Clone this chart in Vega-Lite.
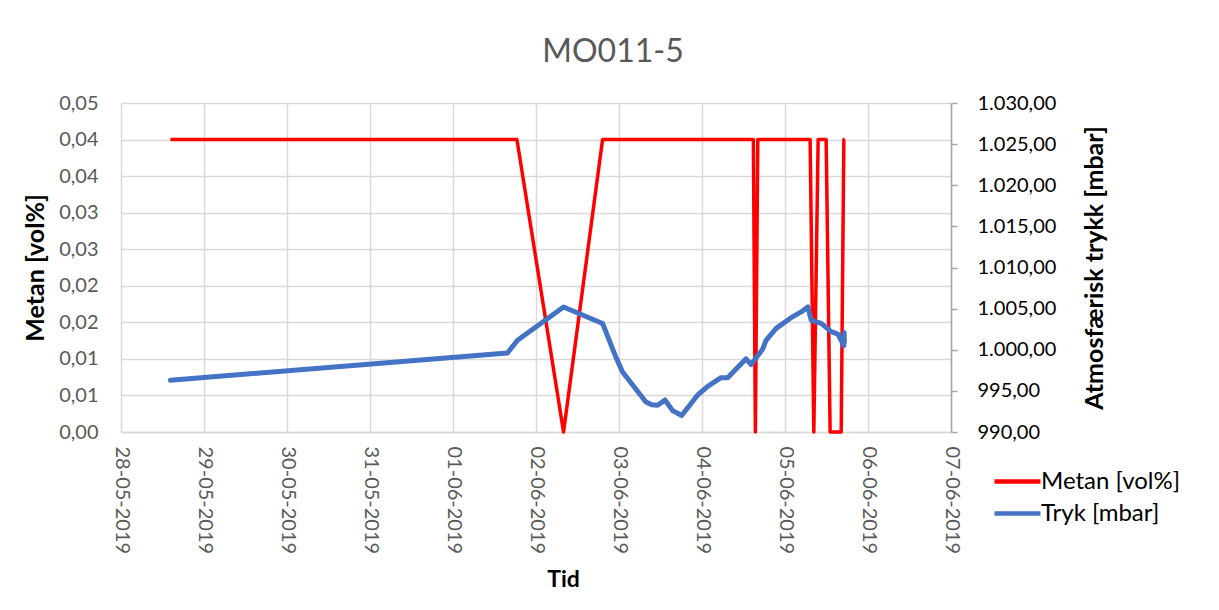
{
  "$schema": "https://vega.github.io/schema/vega-lite/v6.json",
  "width": 830,
  "height": 329,
  "autosize": {"type": "none"},
  "padding": {"left": 121, "top": 103, "right": 268, "bottom": 178},
  "background": "white",
  "title": {"text": "MO011-5", "fontSize": 32, "fontWeight": "normal", "color": "#595959", "anchor": "middle", "dx": 77, "offset": 24},
  "data": {
    "values": [
      {"t": "2019-05-28T14:17:00", "series": "Metan [vol%]", "v": 0.04},
      {"t": "2019-06-01T18:29:00", "series": "Metan [vol%]", "v": 0.04},
      {"t": "2019-06-02T07:58:00", "series": "Metan [vol%]", "v": 0},
      {"t": "2019-06-02T19:15:00", "series": "Metan [vol%]", "v": 0.04},
      {"t": "2019-06-04T14:51:00", "series": "Metan [vol%]", "v": 0.04},
      {"t": "2019-06-04T15:26:00", "series": "Metan [vol%]", "v": 0},
      {"t": "2019-06-04T16:08:00", "series": "Metan [vol%]", "v": 0.04},
      {"t": "2019-06-05T07:16:00", "series": "Metan [vol%]", "v": 0.04},
      {"t": "2019-06-05T08:20:00", "series": "Metan [vol%]", "v": 0},
      {"t": "2019-06-05T09:35:00", "series": "Metan [vol%]", "v": 0.04},
      {"t": "2019-06-05T11:54:00", "series": "Metan [vol%]", "v": 0.04},
      {"t": "2019-06-05T13:03:00", "series": "Metan [vol%]", "v": 0},
      {"t": "2019-06-05T16:15:00", "series": "Metan [vol%]", "v": 0},
      {"t": "2019-06-05T17:01:00", "series": "Metan [vol%]", "v": 0.04},
      {"t": "2019-06-05T17:15:00", "series": "Metan [vol%]", "v": 0.04},
      {"t": "2019-05-28T14:17:00", "series": "Tryk [mbar]", "v": 996.3},
      {"t": "2019-06-01T15:45:00", "series": "Tryk [mbar]", "v": 999.6},
      {"t": "2019-06-01T18:39:00", "series": "Tryk [mbar]", "v": 1001.15},
      {"t": "2019-06-02T07:58:00", "series": "Tryk [mbar]", "v": 1005.2},
      {"t": "2019-06-02T19:15:00", "series": "Tryk [mbar]", "v": 1003.2},
      {"t": "2019-06-02T23:06:00", "series": "Tryk [mbar]", "v": 999.1},
      {"t": "2019-06-03T01:02:00", "series": "Tryk [mbar]", "v": 997.3},
      {"t": "2019-06-03T07:47:00", "series": "Tryk [mbar]", "v": 993.65},
      {"t": "2019-06-03T09:30:00", "series": "Tryk [mbar]", "v": 993.3},
      {"t": "2019-06-03T11:11:00", "series": "Tryk [mbar]", "v": 993.25},
      {"t": "2019-06-03T13:18:00", "series": "Tryk [mbar]", "v": 993.9},
      {"t": "2019-06-03T15:31:00", "series": "Tryk [mbar]", "v": 992.6},
      {"t": "2019-06-03T18:07:00", "series": "Tryk [mbar]", "v": 992.0},
      {"t": "2019-06-03T22:45:00", "series": "Tryk [mbar]", "v": 994.5},
      {"t": "2019-06-04T01:39:00", "series": "Tryk [mbar]", "v": 995.55},
      {"t": "2019-06-04T05:30:00", "series": "Tryk [mbar]", "v": 996.6},
      {"t": "2019-06-04T07:26:00", "series": "Tryk [mbar]", "v": 996.6},
      {"t": "2019-06-04T12:44:00", "series": "Tryk [mbar]", "v": 998.9},
      {"t": "2019-06-04T14:11:00", "series": "Tryk [mbar]", "v": 998.2},
      {"t": "2019-06-04T17:34:00", "series": "Tryk [mbar]", "v": 1000.1},
      {"t": "2019-06-04T18:31:00", "series": "Tryk [mbar]", "v": 1001.15},
      {"t": "2019-06-04T21:26:00", "series": "Tryk [mbar]", "v": 1002.6},
      {"t": "2019-06-05T01:46:00", "series": "Tryk [mbar]", "v": 1003.9},
      {"t": "2019-06-05T04:41:00", "series": "Tryk [mbar]", "v": 1004.6},
      {"t": "2019-06-05T06:36:00", "series": "Tryk [mbar]", "v": 1005.2},
      {"t": "2019-06-05T07:34:00", "series": "Tryk [mbar]", "v": 1003.6},
      {"t": "2019-06-05T10:28:00", "series": "Tryk [mbar]", "v": 1003.2},
      {"t": "2019-06-05T13:21:00", "series": "Tryk [mbar]", "v": 1002.2},
      {"t": "2019-06-05T15:17:00", "series": "Tryk [mbar]", "v": 1001.9},
      {"t": "2019-06-05T16:44:00", "series": "Tryk [mbar]", "v": 1000.75},
      {"t": "2019-06-05T17:00:00", "series": "Tryk [mbar]", "v": 1000.5},
      {"t": "2019-06-05T17:06:00", "series": "Tryk [mbar]", "v": 1002.1},
      {"t": "2019-06-05T17:10:00", "series": "Tryk [mbar]", "v": 1000.9}
    ]
  },
  "encoding": {
    "x": {
      "field": "t",
      "type": "temporal",
      "scale": {"domain": [{"year": 2019, "month": 5, "date": 28}, {"year": 2019, "month": 6, "date": 7}]},
      "axis": {
        "title": "Tid",
        "format": "%d-%m-%Y",
        "labelAngle": 90,
        "values": [
          {"year": 2019, "month": 5, "date": 28},
          {"year": 2019, "month": 5, "date": 29},
          {"year": 2019, "month": 5, "date": 30},
          {"year": 2019, "month": 5, "date": 31},
          {"year": 2019, "month": 6, "date": 1},
          {"year": 2019, "month": 6, "date": 2},
          {"year": 2019, "month": 6, "date": 3},
          {"year": 2019, "month": 6, "date": 4},
          {"year": 2019, "month": 6, "date": 5},
          {"year": 2019, "month": 6, "date": 6},
          {"year": 2019, "month": 6, "date": 7}
        ],
        "grid": true,
        "gridColor": "#d9d9d9",
        "gridWidth": 1.5,
        "ticks": false,
        "domainColor": "#d9d9d9",
        "domainWidth": 1.5,
        "labelColor": "#595959",
        "labelFontSize": 20,
        "labelPadding": 14,
        "labelOverlap": false,
        "labelFlush": false,
        "titleFontSize": 23,
        "titleFontWeight": "bold",
        "titleColor": "#000000",
        "titlePadding": 15,
        "titleX": 442
      }
    }
  },
  "layer": [
    {
      "transform": [{"filter": "datum.series === 'Metan [vol%]'"}],
      "mark": {"type": "line", "strokeWidth": 3.5, "strokeJoin": "round"},
      "encoding": {
        "y": {
          "field": "v",
          "type": "quantitative",
          "scale": {"domain": [0, 0.045], "nice": false, "zero": true},
          "axis": {
            "orient": "left",
            "title": "Metan [vol%]",
            "values": [0, 0.005, 0.01, 0.015, 0.02, 0.025, 0.03, 0.035, 0.04, 0.045],
            "labelExpr": "replace(format(round(datum.value*100+0.000001)/100, '.2f'), '.', ',')",
            "grid": true,
            "gridColor": "#d9d9d9",
            "gridWidth": 1.5,
            "ticks": false,
            "domain": false,
            "labelColor": "#595959",
            "labelFontSize": 20,
            "labelPadding": 23,
            "titleFontSize": 25,
            "titleFontWeight": "bold",
            "titleColor": "#000000",
            "titlePadding": 10
          }
        },
        "color": {
          "field": "series",
          "type": "nominal",
          "scale": {"domain": ["Metan [vol%]", "Tryk [mbar]"], "range": ["#ff0000", "#4472c4"]},
          "legend": {
            "orient": "none",
            "legendX": 884,
            "legendY": 366,
            "title": null,
            "padding": 0,
            "symbolType": "M-2.3,0H2.3",
            "symbolSize": 400,
            "symbolStrokeWidth": 4.5,
            "labelFontSize": 24,
            "labelColor": "#000000",
            "labelOffset": 11,
            "rowPadding": 7
          }
        }
      }
    },
    {
      "transform": [{"filter": "datum.series === 'Tryk [mbar]'"}],
      "mark": {"type": "line", "strokeWidth": 5, "strokeJoin": "round", "strokeCap": "round"},
      "encoding": {
        "y": {
          "field": "v",
          "type": "quantitative",
          "scale": {"domain": [990, 1030], "nice": false, "zero": false},
          "axis": {
            "orient": "right",
            "title": "Atmosfærisk trykk [mbar]",
            "titleAngle": 270,
            "titleBaseline": "top",
            "values": [990, 995, 1000, 1005, 1010, 1015, 1020, 1025, 1030],
            "labelExpr": "replace(replace(replace(format(datum.value, ',.2f'), ',', '#'), '.', ','), '#', '.')",
            "grid": false,
            "ticks": true,
            "tickColor": "#a6a6a6",
            "tickSize": 6,
            "tickWidth": 1.5,
            "domain": true,
            "domainColor": "#a6a6a6",
            "domainWidth": 1.5,
            "labelColor": "#000000",
            "labelFontSize": 20,
            "labelPadding": 20,
            "titleFontSize": 25,
            "titleFontWeight": "bold",
            "titleColor": "#000000",
            "titlePadding": 27
          }
        },
        "color": {
          "field": "series",
          "type": "nominal",
          "scale": {"domain": ["Metan [vol%]", "Tryk [mbar]"], "range": ["#ff0000", "#4472c4"]}
        }
      }
    }
  ],
  "resolve": {"scale": {"y": "independent"}},
  "config": {
    "font": "Lato",
    "view": {"stroke": null}
  }
}
